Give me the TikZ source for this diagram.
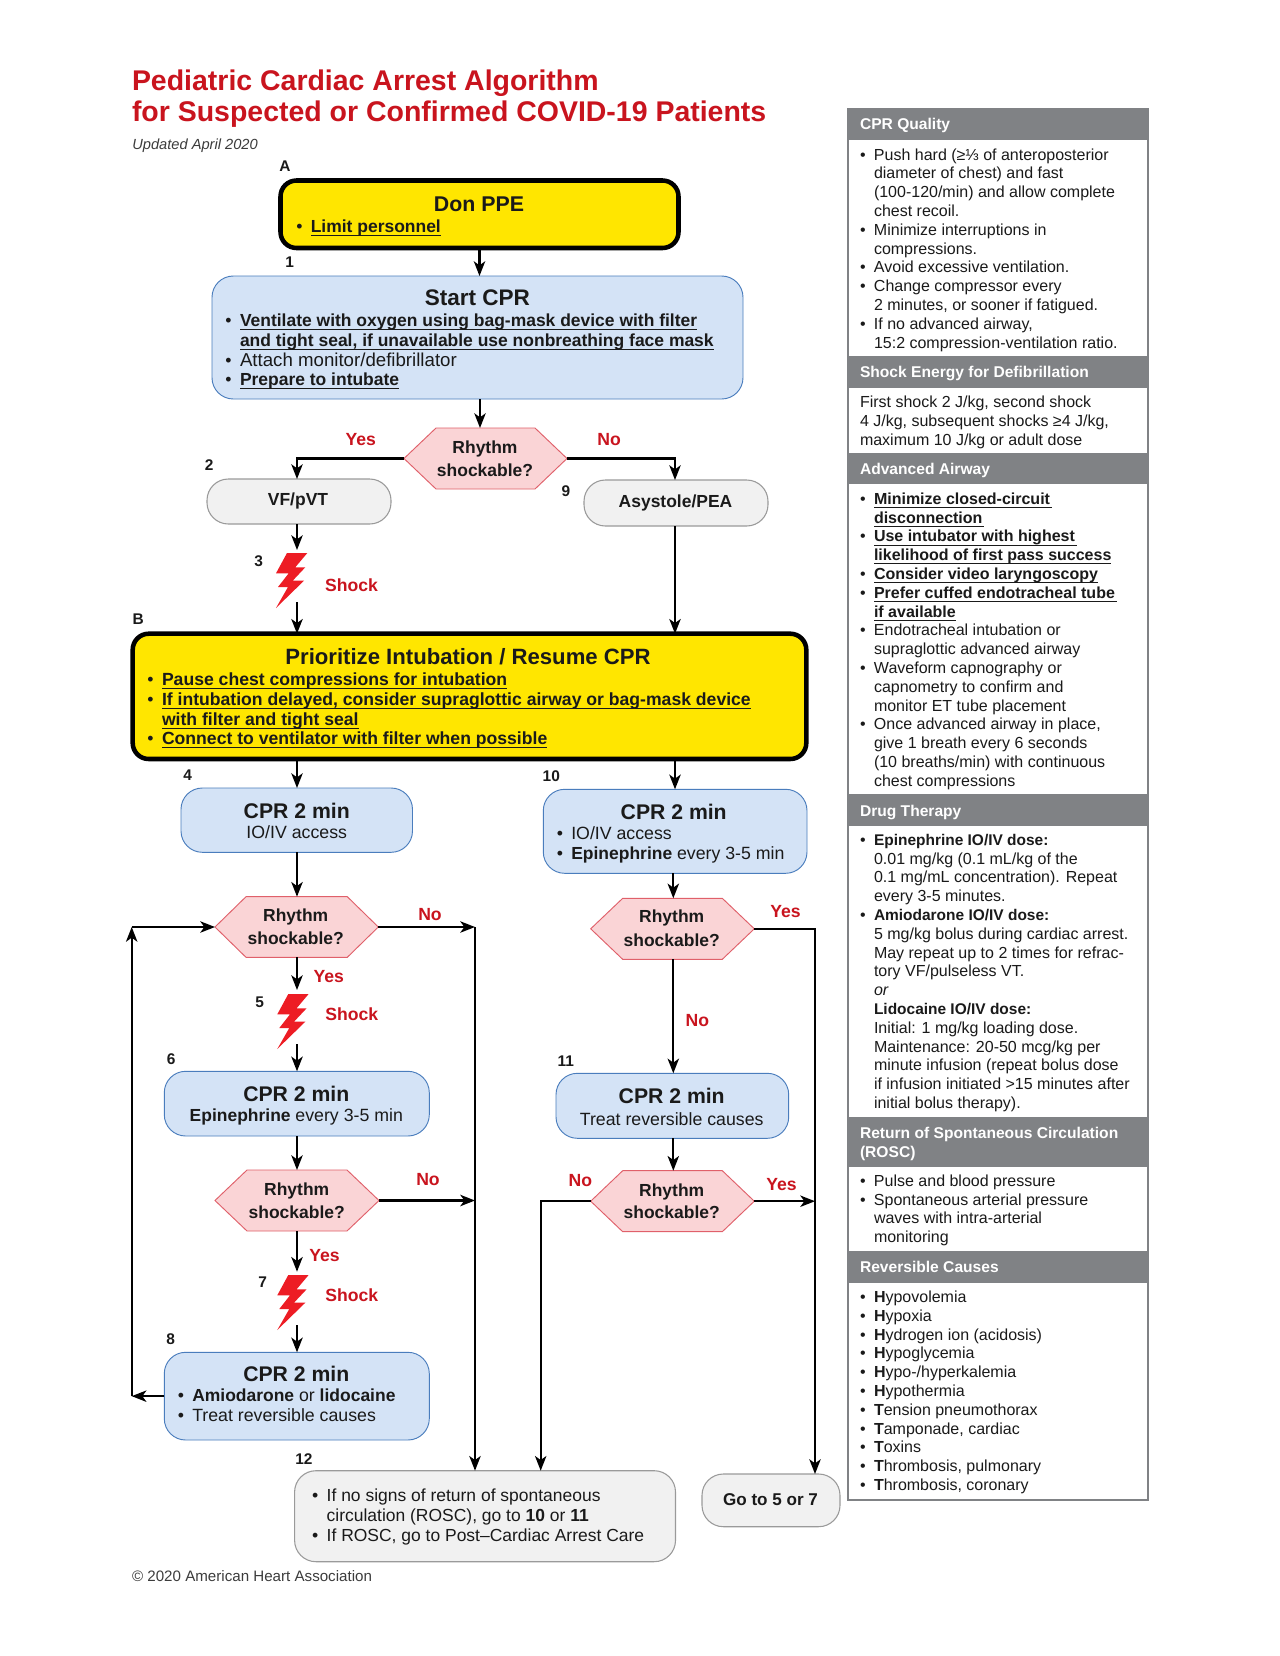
\documentclass[tikz,border=0pt]{standalone}
\usepackage{fontspec}
\setmainfont{Liberation Sans}
\usetikzlibrary{arrows.meta}
\newdimen\px \px=0.75pt
\definecolor{ahayellow}{HTML}{FFE600}
\definecolor{ahablue}{HTML}{D4E3F6}
\definecolor{ahaedge}{HTML}{4A7DBD}
\definecolor{ahagray}{HTML}{F1F1F1}
\definecolor{ahagedge}{HTML}{9A9A9A}
\definecolor{ahapink}{HTML}{FAD4D6}
\definecolor{ahapedge}{HTML}{E0606A}
\definecolor{ahared}{HTML}{C9141E}
\definecolor{ahabolt}{HTML}{ED1C24}
\definecolor{ahahead}{HTML}{808285}
\definecolor{ahatext}{HTML}{1A1A1A}
% fonts
\newcommand\fbig{\bfseries\fontsize{15.9}{19}\selectfont}
\newcommand\freg{\mdseries\fontsize{13.3}{16}\selectfont}
\newcommand\fbld{\bfseries\fontsize{13.1}{16}\selectfont}
\newcommand\fbiz{\bfseries\fontsize{13.2}{16}\selectfont}
\newcommand\fhex{\bfseries\fontsize{13.1}{16}\selectfont}
\newcommand\fpan{\fontsize{12}{14}\selectfont}
\newcommand\fpbd{\bfseries\fontsize{11.6}{14}\selectfont}
\newcommand\fpul{\bfseries\fontsize{12}{14}\selectfont}
\newcommand\fhdr{\bfseries\fontsize{11.7}{14}\selectfont}
% text layout inside a box: dy from the previous baseline, x from the box's left side
\newcommand\tl[3]{\vbox to #1\px{\vss\hbox{\kern#2\px\rlap{\smash{\hbox{#3}}}}}}
\newcommand\tc[3]{\vbox to #1\px{\vss\hbox{\kern#2\px\hbox to 0pt{\hss\smash{\hbox{#3}}\hss}}}}
\newcommand\tb[3]{\tl{#1}{#2}{\llap{•\kern8.3\px}#3}}
\newcommand\ulx[1]{\sbox0{#1}\rlap{\rule[-3.4\px]{\wd0}{0.8\px}}\usebox0}
\newcommand\pb[1]{\tb{18.8}{25}{#1}}
\newcommand\pc[1]{\tl{18.8}{25}{#1}}
% box: style, name, left, top, right, bottom, lines
\newcommand\bx[7][]{%
  \pgfmathsetmacro\bxW{#5-(#3)}\pgfmathsetmacro\bxH{#6-(#4)}%
  \node[inner sep=0pt,outer sep=0pt,minimum width=\bxW*0.75pt,minimum height=\bxH*0.75pt,#1] (#2)
    at ({(#3+#5)/2},{(#4+#6)/2})
    {\vbox to \bxH\px{\offinterlineskip\hbox to \bxW\px{}#7\vss}};}
% hexagon: name, left, top, right, bottom, chamfer, lines
\newcommand\hx[7]{%
  \pgfmathsetmacro\hxM{(#3+#5)/2}\pgfmathsetmacro\hxA{#2+#6}\pgfmathsetmacro\hxB{#4-#6}%
  \draw[hexa] (#2,\hxM)--(\hxA,#3)--(\hxB,#3)--(#4,\hxM)--(\hxB,#5)--(\hxA,#5)--cycle;
  \bx{#1}{#2}{#3}{#4}{#5}{#7}}
\newcommand\boltat[2]{\fill[ahabolt,shift={(#1,#2)}] (11,0)--(31.3,0)--(19.3,14.3)--(29.3,14.3)--(16.7,27.7)--(28,27.7)--(0,55)--(12,34)--(2,34)--(12.7,20.3)--(0,20.3)--cycle;}
\tikzset{
  yellowbox/.style={draw=black,fill=ahayellow,line width=3.4pt,rounded corners=12pt,font=\freg},
  bluebox/.style={draw=ahaedge,fill=ahablue,line width=0.7pt,rounded corners=16pt,font=\freg},
  graybox/.style={draw=ahagedge,fill=ahagray,line width=0.8pt,rounded corners=16pt,font=\freg},
  hexa/.style={draw=ahapedge,fill=ahapink,line width=0.7pt},
  hdr/.style={fill=ahahead,text=white},
  conn/.style={draw=black,line width=1.65pt,-{Stealth[length=11pt,width=8.5pt,inset=3pt]}},
  redlab/.style={anchor=base west,inner sep=0pt,text=ahared,font=\bfseries\fontsize{13.2}{16}\selectfont},
  numlab/.style={anchor=base west,inner sep=0pt,font=\bfseries\fontsize{11.6}{14}\selectfont},
  smalltxt/.style={anchor=base west,inner sep=0pt,text=ahatext!85,font=\fontsize{11.35}{14}\selectfont},
}
\begin{document}
\begin{tikzpicture}[x=0.75pt,y=-0.75pt,text=ahatext]
\fill[white] (0,0) rectangle (1280,1656);
\useasboundingbox (0,0) rectangle (1280,1656);
% title
\bx[text=ahared]{title}{132}{60}{800}{130}{%
  \tl{30}{0}{\bfseries\fontsize{21.35}{24}\selectfont Pediatric Cardiac Arrest Algorithm}%
  \tl{31}{0}{\bfseries\fontsize{21.35}{24}\selectfont for Suspected or Confirmed COVID-19 Patients}}
\node[smalltxt,font=\itshape\fontsize{11}{14}\selectfont] (upd) at (132,149.3) {Updated April 2020};
\node[smalltxt] (copy) at (131.8,1581.7) {© 2020 American Heart Association};
% lanes
\coordinate (lS) at (480,0);
\coordinate (lL) at (297,0);
\coordinate (lR) at (675,0);
\coordinate (lG) at (673.3,0);
\coordinate (lC) at (475,0);
\coordinate (lD) at (540.7,0);
\coordinate (lE) at (815,0);
\coordinate (lF) at (131.7,0);
% boxes
\bx[yellowbox]{don}{280.5}{180.5}{678.5}{248}{%
  \tc{31.2}{198.5}{\fbig\fontsize{16}{19}\selectfont Don PPE}%
  \tb{21}{30.3}{\fbld\ulx{Limit personnel}}}
\bx[bluebox]{start}{212}{276}{743}{399}{%
  \tc{29.7}{265.4}{\fbig\fontsize{16.9}{19}\selectfont Start CPR}%
  \tb{20.3}{28}{\fbld\ulx{Ventilate with oxygen using bag-mask device with filter}}%
  \tl{20}{28}{\fbld\ulx{and tight seal, if unavailable use nonbreathing face mask}}%
  \tb{20}{28}{\freg\fontsize{14}{16}\selectfont Attach monitor/defibrillator}%
  \tb{19.7}{28}{\fbld\ulx{Prepare to intubate}}}
\hx{hone}{404}{428}{567}{489}{32}{\tc{25.3}{81}{\fhex Rhythm}\tc{22.7}{81}{\fhex shockable?}}
\bx[graybox]{vf}{207}{479}{391}{524}{\tc{26.7}{91}{\fhex VF/pVT}}
\bx[graybox]{asy}{584}{480}{768}{526}{\tc{27.3}{91.5}{\fhex Asystole/PEA}}
\bx[yellowbox]{prio}{132.7}{633.7}{806.3}{759}{%
  \tc{30.6}{335.3}{\fbig\fontsize{16.6}{19}\selectfont Prioritize Intubation / Resume CPR}%
  \tb{20.7}{29.3}{\fbiz\ulx{Pause chest compressions for intubation}}%
  \tb{20}{29.3}{\fbiz\ulx{If intubation delayed, consider supraglottic airway or bag-mask device}}%
  \tl{20}{29.3}{\fbiz\ulx{with filter and tight seal}}%
  \tb{19.3}{29.3}{\fbiz\ulx{Connect to ventilator with filter when possible}}}
\bx[bluebox]{four}{181}{788}{412.5}{852.3}{%
  \tc{30}{115.75}{\fbig CPR 2 min}\tc{20.3}{115.75}{\freg IO/IV access}}
\bx[bluebox]{ten}{543.3}{789.3}{807}{873.3}{%
  \tc{29.7}{130.4}{\fbig CPR 2 min}%
  \tb{20}{28}{\freg IO/IV access}%
  \tb{20.3}{28}{\fbld Epinephrine \freg every 3-5 min}}
\hx{hA}{215}{896.7}{378.3}{957.3}{31}{\tc{25}{80.7}{\fhex Rhythm}\tc{22.3}{80.7}{\fhex shockable?}}
\hx{hC}{590.7}{898.3}{754.3}{959.3}{32}{\tc{24.4}{81}{\fhex Rhythm}\tc{23.3}{81}{\fhex shockable?}}
\bx[bluebox]{six}{164.3}{1071.3}{429.3}{1136}{%
  \tc{30.4}{132}{\fbig CPR 2 min}%
  \tc{20}{132}{\fbld Epinephrine \freg every 3-5 min}}
\bx[bluebox]{eleven}{556}{1073.3}{788.7}{1138.3}{%
  \tc{30}{115.7}{\fbig CPR 2 min}\tc{21.7}{115.7}{\freg Treat reversible causes}}
\hx{hB}{215}{1170}{379}{1231}{32}{\tc{25}{81.7}{\fhex Rhythm}\tc{23.3}{81.7}{\fhex shockable?}}
\hx{hD}{590.7}{1170.7}{754.3}{1231.7}{32}{\tc{25.3}{81}{\fhex Rhythm}\tc{22.3}{81}{\fhex shockable?}}
\bx[bluebox]{eight}{164.3}{1352.3}{429.3}{1440}{%
  \tc{29.4}{132}{\fbig CPR 2 min}%
  \tb{19.6}{28}{\fbld Amiodarone \freg or \fbld lidocaine}%
  \tb{20.4}{28}{\freg Treat reversible causes}}
\bx[graybox]{twelve}{294.6}{1470.7}{675.5}{1561.7}{%
  \tb{31}{32.1}{\fontsize{13.1}{16}\selectfont If no signs of return of spontaneous}%
  \tl{20}{32.1}{\fontsize{13.1}{16}\selectfont circulation (ROSC), go to \fbld 10 \mdseries\fontsize{13.1}{16}\selectfont or \fbld 11}%
  \tb{19.3}{32.1}{\fontsize{13.1}{16}\selectfont If ROSC, go to Post–Cardiac Arrest Care}}
\bx[graybox]{goto}{702}{1474}{840}{1526.7}{\tc{31}{68.5}{\bfseries\fontsize{12.8}{16}\selectfont Go to 5 or 7}}
% bolts
\boltat{276}{553}
\boltat{277.3}{994}
\boltat{277.3}{1275}
\coordinate (bAin) at (297,550);  \coordinate (bAout) at (297,602);
\coordinate (bBin) at (297,990);  \coordinate (bBout) at (297,1044);
\coordinate (bCin) at (297,1271.7); \coordinate (bCout) at (297,1325);
% connectors
\draw[conn] (don.south) -- (don.south |- start.north);
\draw[conn] (lS |- start.south) -- (lS |- hone.north);
\draw[conn] (hone.west) -| (lL |- vf.north);
\draw[conn] (hone.east) -| (lR |- asy.north);
\draw[conn] (lL |- vf.south) -- (bAin);
\draw[conn] (bAout) -- (lL |- prio.north);
\draw[conn] (lR |- asy.south) -- (lR |- prio.north);
\draw[conn] (lL |- prio.south) -- (lL |- four.north);
\draw[conn] (lR |- prio.south) -- (lR |- ten.north);
\draw[conn] (lL |- four.south) -- (lL |- hA.north);
\draw[conn] (lG |- ten.south) -- (lG |- hC.north);
\draw[conn] (lL |- hA.south) -- (bBin);
\draw[conn] (bBout) -- (lL |- six.north);
\draw[conn] (lL |- six.south) -- (lL |- hB.north);
\draw[conn] (lL |- hB.south) -- (bCin);
\draw[conn] (bCout) -- (lL |- eight.north);
\draw[conn] (lG |- hC.south) -- (lG |- eleven.north);
\draw[conn] (lG |- eleven.south) -- (lG |- hD.north);
\draw[conn] (eight.west) -- (lF |- eight.west);
\draw[conn] (lF |- eight.west) -- (lF |- hA.west);
\draw[conn] (lF |- hA.west) -- (hA.west);
\draw[conn] (hA.east) -- (lC |- hA.east);
\draw[conn] (hB.east) -- (lC |- hB.east);
\draw[conn] (lC |- hA.east) -- (lC |- twelve.north);
\draw[conn] (hD.west) -| (lD |- twelve.north);
\draw[conn] (hC.east) -| (lE |- goto.north);
\draw[conn] (hD.east) -- (lE |- hD.east);
% red labels
\node[redlab] (y1) at (345.3,445) {Yes};
\node[redlab] (n1) at (597.2,445) {No};
\node[redlab] (s1) at (324.8,591) {Shock};
\node[redlab] (n2) at (418,920) {No};
\node[redlab] (y2) at (313.3,982.7) {Yes};
\node[redlab] (s2) at (325,1020) {Shock};
\node[redlab] (n3) at (416,1185) {No};
\node[redlab] (y3) at (309,1261) {Yes};
\node[redlab] (s3) at (325,1301.7) {Shock};
\node[redlab] (y4) at (770,917.7) {Yes};
\node[redlab] (n4) at (685.3,1026) {No};
\node[redlab] (y5) at (766,1190) {Yes};
\node[redlab] (n5) at (568.3,1186.7) {No};
% step numbers
\node[numlab] (mA) at (279,171.7) {A};
\node[numlab] (m1) at (285,267.7) {1};
\node[numlab] (m2) at (204.7,470) {2};
\node[numlab] (m9) at (561.3,496) {9};
\node[numlab] (m3) at (254,566) {3};
\node[numlab] (mB) at (132.4,624) {B};
\node[numlab] (m4) at (183,780) {4};
\node[numlab] (m10) at (542.4,781.7) {10};
\node[numlab] (m5) at (255,1007.3) {5};
\node[numlab] (m6) at (166.7,1064) {6};
\node[numlab] (m11) at (557.3,1066) {11};
\node[numlab] (m7) at (258,1287.7) {7};
\node[numlab] (m8) at (166,1344.3) {8};
\node[numlab] (m12) at (295,1464.3) {12};
% side panel
\bx[draw=ahahead,line width=1.5pt]{panel}{847.8}{109}{1147.8}{1500}{}
\bx[hdr]{hq}{847}{108.7}{1148.6}{140}{\tl{20.3}{13}{\fhdr CPR Quality}}
\bx{bq}{849}{140}{1146.5}{356}{\fpan
  \tb{20}{25}{Push hard (≥⅓ of anteroposterior}\pc{diameter of chest) and fast}\pc{(100-120/min) and allow complete}\pc{chest recoil.}%
  \pb{Minimize interruptions in}\pc{compressions.}\pb{Avoid excessive ventilation.}\pb{Change compressor every}\pc{2 minutes, or sooner if fatigued.}%
  \pb{If no advanced airway,}\pc{15:2 compression-ventilation ratio.}}
\bx[hdr]{hs}{847}{356}{1148.6}{388}{\tl{21.4}{13}{\fhdr Shock Energy for Defibrillation}}
\bx{bs}{849}{388}{1146.5}{452.7}{\fpan
  \tl{19.4}{11}{First shock 2 J/kg, second shock}\tl{18.8}{11}{4 J/kg, subsequent shocks ≥4 J/kg,}\tl{18.8}{11}{maximum 10 J/kg or adult dose}}
\bx[hdr]{ha}{847}{452.7}{1148.6}{484}{\tl{21.3}{13}{\fhdr Advanced Airway}}
\bx{ba}{849}{484}{1146.5}{794.3}{\fpan
  \tb{20.3}{25}{\fpul\ulx{Minimize closed-circuit\kern2\px}}\pc{\fpul\ulx{disconnection\kern2\px}}%
  \pb{\fpul\ulx{Use intubator with highest\kern2\px}}\pc{\fpul\ulx{likelihood of first pass success}}%
  \pb{\fpul\ulx{Consider video laryngoscopy}}%
  \pb{\fpul\ulx{Prefer cuffed endotracheal tube\kern2\px}}\pc{\fpul\ulx{if available}}%
  \pb{Endotracheal intubation or}\pc{supraglottic advanced airway}%
  \pb{Waveform capnography or}\pc{capnometry to confirm and}\pc{monitor ET tube placement}%
  \pb{Once advanced airway in place,}\pc{give 1 breath every 6 seconds}\pc{(10 breaths/min) with continuous}\pc{chest compressions}}
\bx[hdr]{hd}{847}{794.3}{1148.6}{826}{\tl{21.7}{13}{\fhdr Drug Therapy}}
\bx{bd}{849}{826}{1146.5}{1117}{\fpan
  \tb{19.3}{25}{\fpbd Epinephrine IO/IV dose:}\pc{0.01 mg/kg (0.1 mL/kg of the}\pc{0.1 mg/mL concentration). Repeat}\pc{every 3-5 minutes.}%
  \pb{\fpbd Amiodarone IO/IV dose:}\pc{5 mg/kg bolus during cardiac arrest.}\pc{May repeat up to 2 times for refrac-}\pc{tory VF/pulseless VT.}\pc{\itshape or}%
  \pc{\fpbd Lidocaine IO/IV dose:}\pc{Initial: 1 mg/kg loading dose.}\pc{Maintenance: 20-50 mcg/kg per}\pc{minute infusion (repeat bolus dose}\pc{if infusion initiated >15 minutes after}\pc{initial bolus therapy).}}
\bx[hdr]{hr}{847}{1117}{1148.6}{1167.3}{\tl{21.3}{13}{\fhdr Return of Spontaneous Circulation}\tl{18.8}{13}{\fhdr (ROSC)}}
\bx{br}{849}{1167.3}{1146.5}{1251}{\fpan
  \tb{18.9}{25}{Pulse and blood pressure}\pb{Spontaneous arterial pressure}\pc{waves with intra-arterial}\pc{monitoring}}
\bx[hdr]{hc}{847}{1251}{1148.6}{1282.7}{\tl{21.4}{13}{\fhdr Reversible Causes}}
\bx{bc}{849}{1282.7}{1146.5}{1498}{\fpan
  \tb{19.7}{25}{\textbf{H}ypovolemia}\pb{\textbf{H}ypoxia}\pb{\textbf{H}ydrogen ion (acidosis)}\pb{\textbf{H}ypoglycemia}\pb{\textbf{H}ypo-/hyperkalemia}\pb{\textbf{H}ypothermia}%
  \pb{\textbf{T}ension pneumothorax}\pb{\textbf{T}amponade, cardiac}\pb{\textbf{T}oxins}\pb{\textbf{T}hrombosis, pulmonary}\pb{\textbf{T}hrombosis, coronary}}
\end{tikzpicture}
\end{document}
